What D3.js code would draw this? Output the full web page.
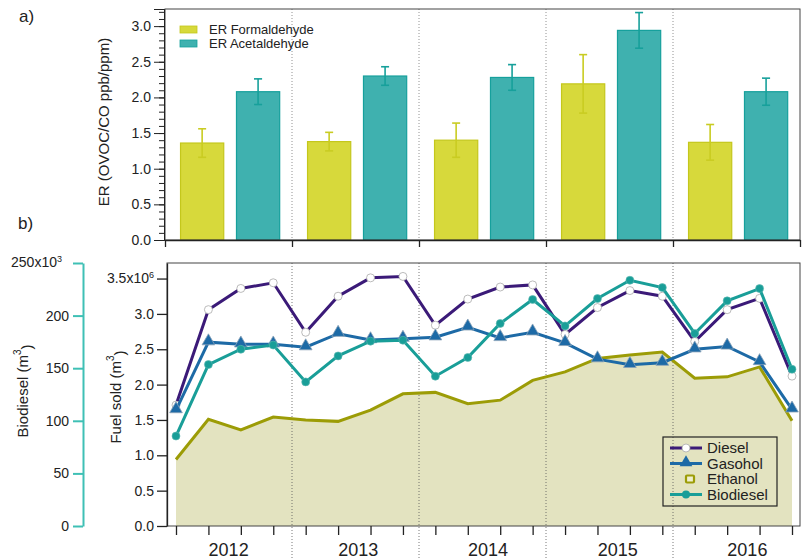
<!DOCTYPE html>
<html>
<head>
<meta charset="utf-8">
<script src="https://cdn.jsdelivr.net/npm/d3@7"></script>
<style>
  html, body { margin: 0; padding: 0; background: #fff; }
  svg { display: block; font-family: "Liberation Sans", Arial, sans-serif; }
</style>
</head>
<body>
<svg id="chart" width="803" height="560"></svg>
<script>
// ---- data ----
const years = ["2012", "2013", "2014", "2015", "2016"];
const erSeries = ["ER Formaldehyde", "ER Acetaldehyde"];
const erFormaldehyde = [1.36, 1.38, 1.40, 2.19, 1.37];
const erFormaldehydeErr = [0.20, 0.13, 0.24, 0.41, 0.25];
const erAcetaldehyde = [2.08, 2.30, 2.28, 2.94, 2.08];
const erAcetaldehydeErr = [0.18, 0.13, 0.18, 0.25, 0.19];
const erTicks = [0, 0.5, 1.0, 1.5, 2.0, 2.5, 3.0];

const quarters = years.flatMap(y => ["Q1", "Q2", "Q3", "Q4"].map(q => y + q));
// fuel sold, m3 (x10^6)
const diesel  = [1.71, 3.06, 3.36, 3.44, 2.74, 3.25, 3.51, 3.53, 2.84, 3.21, 3.38, 3.41, 2.71, 3.09, 3.33, 3.25, 2.61, 3.06, 3.22, 2.12];
const gasohol = [1.64, 2.60, 2.57, 2.57, 2.53, 2.72, 2.63, 2.65, 2.67, 2.81, 2.66, 2.74, 2.59, 2.36, 2.28, 2.31, 2.50, 2.54, 2.32, 1.65];
const ethanol = [0.94, 1.51, 1.36, 1.54, 1.50, 1.48, 1.64, 1.87, 1.89, 1.73, 1.78, 2.06, 2.18, 2.37, 2.42, 2.46, 2.09, 2.11, 2.25, 1.49];
// biodiesel, m3 (x10^3), right-hand scale drawn on the far left
const biodiesel = [85.5, 153.5, 168, 172, 137, 161.7, 175.7, 176.6, 142.4, 160.2, 192.5, 215.3, 190.2, 216.2, 233.6, 226.6, 183, 214, 225.7, 149];
const fuelTicks = [0, 0.5, 1.0, 1.5, 2.0, 2.5, 3.0, 3.5];
const bioTicks = [0, 50, 100, 150, 200, 250];
const fuelLegend = ["Diesel", "Gasohol", "Ethanol", "Biodiesel"];

// ---- styles ----
const C = {
  formFill: "#d7d93b", formStroke: "#c4c71c", formErr: "#c9cc22",
  acetFill: "#3fb1af", acetStroke: "#16a09c", acetErr: "#17a09b",
  diesel: "#3b1a78", gasohol: "#1d6aa6", ethanol: "#9c9c06", ethArea: "#e3e3c0",
  bio: "#199e98", bioAxis: "#3fc0b5", axis: "#222", grid: "#777"
};

const svg = d3.select("#chart");

// ================= panel a) =================
const A = { left: 165, right: 800, top: 9, bottom: 240 };
const xYear = d3.scaleBand().domain(years).range([A.left, A.right]);
const xSub = d3.scaleBand().domain(erSeries).range([0, xYear.bandwidth()])
  .paddingInner(0.21).paddingOuter(0.24).align(0.56);
const yER = d3.scaleLinear().domain([0, 3.24]).range([A.bottom, A.top]);

const gA = svg.append("g");

// year separators
const bounds = years.slice(1).map(y => xYear(y));
gA.selectAll("line.sep").data(bounds).join("line")
  .attr("x1", d => d).attr("x2", d => d)
  .attr("y1", A.top).attr("y2", A.bottom)
  .attr("stroke", C.grid).attr("stroke-width", 0.8).attr("stroke-dasharray", "1,2");

const erData = years.map((y, i) => [
  { year: y, key: erSeries[0], v: erFormaldehyde[i], e: erFormaldehydeErr[i], fill: C.formFill, stroke: C.formStroke, ec: C.formErr },
  { year: y, key: erSeries[1], v: erAcetaldehyde[i], e: erAcetaldehydeErr[i], fill: C.acetFill, stroke: C.acetStroke, ec: C.acetErr }
]).flat();

gA.selectAll("rect.bar").data(erData).join("rect")
  .attr("x", d => xYear(d.year) + xSub(d.key) + 0.5)
  .attr("width", xSub.bandwidth() - 1)
  .attr("y", d => yER(d.v))
  .attr("height", d => yER(0) - yER(d.v))
  .attr("fill", d => d.fill).attr("stroke", d => d.stroke).attr("stroke-width", 1.2);

const eb = gA.selectAll("g.err").data(erData).join("g")
  .attr("transform", d => `translate(${xYear(d.year) + xSub(d.key) + xSub.bandwidth() / 2},0)`)
  .attr("stroke", d => d.ec).attr("stroke-width", 1.6);
eb.append("line").attr("y1", d => yER(d.v + d.e)).attr("y2", d => yER(d.v - d.e));
eb.append("line").attr("x1", -4).attr("x2", 4).attr("y1", d => yER(d.v + d.e)).attr("y2", d => yER(d.v + d.e));
eb.append("line").attr("x1", -4).attr("x2", 4).attr("y1", d => yER(d.v - d.e)).attr("y2", d => yER(d.v - d.e));

// frame
gA.append("rect").attr("x", A.left).attr("y", A.top)
  .attr("width", A.right - A.left).attr("height", A.bottom - A.top)
  .attr("fill", "none").attr("stroke", "#444").attr("stroke-width", 1);

// y axis with minor ticks
const yAxA = gA.append("g").attr("transform", `translate(${A.left - 1},0)`);
yAxA.call(d3.axisLeft(yER).tickValues(d3.range(0, 3.25, 0.1)).tickSize(5).tickFormat(""));
yAxA.call(g => g.append("g").call(d3.axisLeft(yER).tickValues(erTicks).tickSize(10).tickFormat(d3.format(".1f"))));
yAxA.selectAll("path.domain").attr("stroke", C.axis);
yAxA.selectAll("line").attr("stroke", C.axis);
yAxA.selectAll("text").attr("font-size", 14).attr("fill", "#222").attr("x", -13);

// x axis (year boundaries)
const xEdge = d3.scaleLinear().domain([0, years.length]).range([A.left, A.right]);
const xAxA = gA.append("g").attr("transform", `translate(0,${A.bottom})`)
  .call(d3.axisBottom(xEdge).tickValues(d3.range(0, years.length + 1)).tickSize(7).tickFormat("").tickSizeOuter(0));
xAxA.selectAll("path, line").attr("stroke", C.axis).attr("stroke-width", 1.3);

// axis title
gA.append("text").attr("transform", `translate(109,122) rotate(-90)`)
  .attr("text-anchor", "middle").attr("font-size", 15).attr("fill", "#222")
  .text("ER (OVOC/CO ppb/ppm)");

// legend
const legA = gA.append("g").attr("transform", "translate(180,26)");
erSeries.forEach((s, i) => {
  const row = legA.append("g").attr("transform", `translate(0,${i * 14})`);
  row.append("rect").attr("width", 17).attr("height", 7)
    .attr("fill", i === 0 ? C.formFill : C.acetFill)
    .attr("stroke", i === 0 ? C.formStroke : C.acetStroke).attr("stroke-width", 0.8);
  row.append("text").attr("x", 29).attr("y", 7.5).attr("font-size", 13).attr("fill", "#222").text(s);
});

svg.append("text").attr("x", 19).attr("y", 22).attr("font-size", 17).attr("fill", "#222").text("a)");
svg.append("text").attr("x", 18).attr("y", 229).attr("font-size", 17).attr("fill", "#222").text("b)");

// ================= panel b) =================
const B = { left: 167, right: 800, top: 263, bottom: 526 };
const xQ = d3.scalePoint().domain(quarters).range([176, 792]);
const yFuel = d3.scaleLinear().domain([0, 3.72]).range([B.bottom, B.top]);
const yBio = d3.scaleLinear().domain([0, 250]).range([B.bottom, B.top]);

const gB = svg.append("g");

// ethanol area
gB.append("path").datum(ethanol)
  .attr("d", d3.area().x((d, i) => xQ(quarters[i])).y0(yFuel(0)).y1(d => yFuel(d)))
  .attr("fill", C.ethArea);

// year separators (continue below the axis)
gB.selectAll("line.sep").data(bounds).join("line")
  .attr("x1", d => d).attr("x2", d => d)
  .attr("y1", B.top).attr("y2", 560)
  .attr("stroke", "#555").attr("stroke-width", 0.8).attr("stroke-dasharray", "1,2");

gB.append("path").datum(ethanol)
  .attr("d", d3.line().x((d, i) => xQ(quarters[i])).y(d => yFuel(d)))
  .attr("fill", "none").attr("stroke", C.ethanol).attr("stroke-width", 3);

// diesel
gB.append("path").datum(diesel)
  .attr("d", d3.line().x((d, i) => xQ(quarters[i])).y(d => yFuel(d)))
  .attr("fill", "none").attr("stroke", C.diesel).attr("stroke-width", 3);
gB.selectAll("circle.diesel").data(diesel).join("circle")
  .attr("cx", (d, i) => xQ(quarters[i])).attr("cy", d => yFuel(d)).attr("r", 4)
  .attr("fill", "#fff").attr("stroke", "#aaa").attr("stroke-width", 0.8);

// gasohol
const tri = d3.symbol().type(d3.symbolTriangle).size(70);
gB.append("path").datum(gasohol)
  .attr("d", d3.line().x((d, i) => xQ(quarters[i])).y(d => yFuel(d)))
  .attr("fill", "none").attr("stroke", C.gasohol).attr("stroke-width", 3);
gB.selectAll("path.gas").data(gasohol).join("path")
  .attr("transform", (d, i) => `translate(${xQ(quarters[i])},${yFuel(d) - 1})`)
  .attr("d", tri).attr("fill", C.gasohol).attr("stroke", "#8aa2b8").attr("stroke-width", 0.8);

// biodiesel (own scale)
gB.append("path").datum(biodiesel)
  .attr("d", d3.line().x((d, i) => xQ(quarters[i])).y(d => yBio(d)))
  .attr("fill", "none").attr("stroke", C.bio).attr("stroke-width", 3);
gB.selectAll("circle.bio").data(biodiesel).join("circle")
  .attr("cx", (d, i) => xQ(quarters[i])).attr("cy", d => yBio(d)).attr("r", 4)
  .attr("fill", C.bio).attr("stroke", "#5fb8b2").attr("stroke-width", 0.6);

// frame
gB.append("rect").attr("x", B.left).attr("y", B.top)
  .attr("width", B.right - B.left).attr("height", B.bottom - B.top)
  .attr("fill", "none").attr("stroke", "#444").attr("stroke-width", 1);

// fuel axis
const yAxB = gB.append("g").attr("transform", `translate(${B.left},0)`)
  .call(d3.axisLeft(yFuel).tickValues(fuelTicks).tickSize(10).tickSizeOuter(0)
    .tickFormat(d => d === 3.5 ? "" : d3.format(".1f")(d)));
yAxB.selectAll("path, line").attr("stroke", C.axis).attr("stroke-width", 1.3);
yAxB.selectAll("text").attr("font-size", 14).attr("fill", "#222").attr("x", -13);
const topFuel = yAxB.append("text").attr("x", -13).attr("y", yFuel(3.5)).attr("dy", "0.32em")
  .attr("text-anchor", "end").attr("font-size", 14).attr("fill", "#222");
topFuel.append("tspan").text("3.5x10");
topFuel.append("tspan").attr("font-size", 9).attr("dy", "-0.6em").text("6");

// biodiesel axis
const yAxBio = gB.append("g").attr("transform", "translate(83,0)")
  .call(d3.axisLeft(yBio).tickValues(bioTicks).tickSize(10).tickSizeOuter(0)
    .tickFormat(d => d === 250 ? "" : d));
yAxBio.selectAll("path, line").attr("stroke", C.bioAxis).attr("stroke-width", 2);
yAxBio.selectAll("text").attr("font-size", 14).attr("fill", "#222").attr("x", -14);
const topBio = yAxBio.append("text").attr("x", -21).attr("y", yBio(250)).attr("dy", "0.32em")
  .attr("text-anchor", "end").attr("font-size", 14).attr("fill", "#222");
topBio.append("tspan").text("250x10");
topBio.append("tspan").attr("font-size", 9).attr("dy", "-0.6em").text("3");

// x axis (quarters)
const xAxB = gB.append("g").attr("transform", `translate(0,${B.bottom})`)
  .call(d3.axisBottom(xQ).tickSize(9).tickFormat("").tickSizeOuter(0));
xAxB.select("path.domain").remove();
xAxB.selectAll("line").attr("stroke", C.axis).attr("stroke-width", 1.3);

gB.selectAll("text.year").data(years).join("text")
  .attr("x", y => d3.mean(quarters.filter(q => q.startsWith(y)), q => xQ(q)) + 4)
  .attr("y", 556).attr("text-anchor", "middle").attr("font-size", 18).attr("fill", "#222")
  .text(y => y);

// axis titles
const tFuel = gB.append("text").attr("transform", "translate(121,397) rotate(-90)")
  .attr("text-anchor", "middle").attr("font-size", 15).attr("fill", "#222");
tFuel.append("tspan").text("Fuel sold (m");
tFuel.append("tspan").attr("font-size", 10).attr("dy", "-0.7em").text("3");
tFuel.append("tspan").attr("dy", "0.7em").text(")");

const tBio = gB.append("text").attr("transform", "translate(28,391) rotate(-90)")
  .attr("text-anchor", "middle").attr("font-size", 15).attr("fill", "#222");
tBio.append("tspan").text("Biodiesel (m");
tBio.append("tspan").attr("font-size", 10).attr("dy", "-0.7em").text("3");
tBio.append("tspan").attr("dy", "0.7em").text(")");

// legend
const legB = gB.append("g").attr("transform", "translate(663,437)");
legB.append("rect").attr("width", 114).attr("height", 69)
  .attr("fill", "none").attr("stroke", "#222").attr("stroke-width", 1.2);
fuelLegend.forEach((name, i) => {
  const cy = 11 + i * 15.5;
  const row = legB.append("g").attr("transform", `translate(0,${cy})`);
  if (name === "Ethanol") {
    row.append("rect").attr("x", 23).attr("y", -3.5).attr("width", 8).attr("height", 7).attr("rx", 1)
      .attr("fill", "#efefcf").attr("stroke", C.ethanol).attr("stroke-width", 2.2);
  } else {
    const col = name === "Diesel" ? C.diesel : name === "Gasohol" ? C.gasohol : C.bio;
    row.append("line").attr("x1", 7).attr("x2", 39).attr("stroke", col).attr("stroke-width", 3);
    if (name === "Diesel") {
      row.append("circle").attr("cx", 23).attr("r", 4).attr("fill", "#fff").attr("stroke", "#aaa").attr("stroke-width", 0.8);
    } else if (name === "Gasohol") {
      row.append("path").attr("transform", "translate(23,-1)").attr("d", tri).attr("fill", C.gasohol);
    } else {
      row.append("circle").attr("cx", 23).attr("r", 4).attr("fill", C.bio);
    }
  }
  row.append("text").attr("x", 44).attr("y", 5).attr("font-size", 15).attr("fill", "#222").text(name);
});
</script>
</body>
</html>
